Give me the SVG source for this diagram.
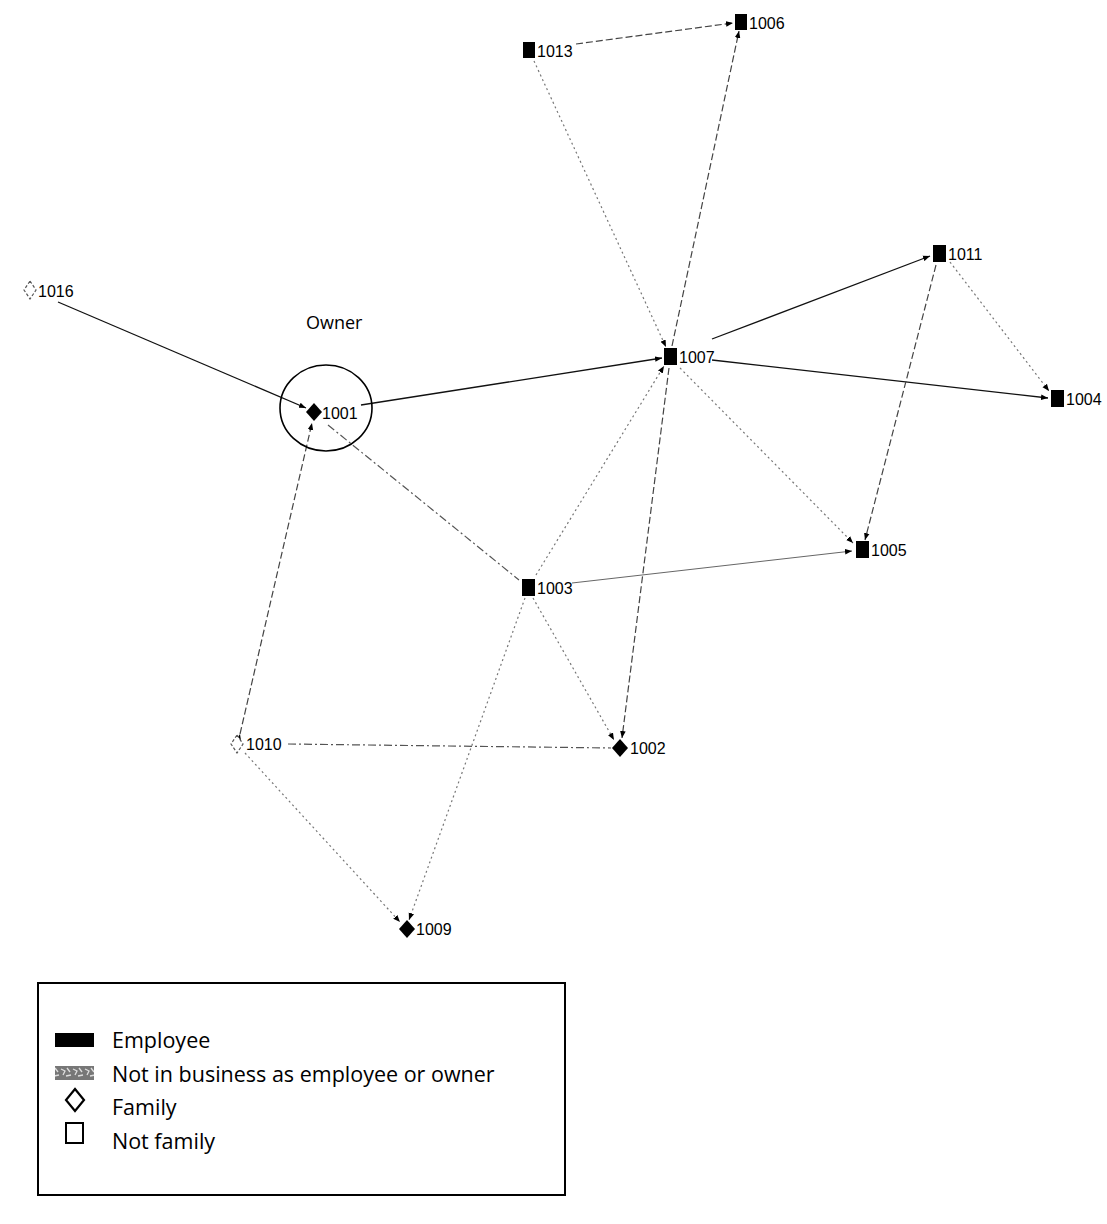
<svg xmlns="http://www.w3.org/2000/svg" width="1107" height="1224" viewBox="0 0 1107 1224">
<style>
.lbl{font-family:"Liberation Sans",Arial,sans-serif;font-size:16px;fill:#000}
.leg{font-family:"Open Sans","Liberation Sans",sans-serif;font-size:21.5px;fill:#000}
.e{fill:none;stroke:#333;stroke-width:1.2}
.solid{stroke:#111;stroke-width:1.3}
.dash{stroke-dasharray:7 3;stroke:#444}
.dot{stroke-dasharray:2 3;stroke:#777}
.dd{stroke-dasharray:8 3 2 3;stroke:#555}
.thin{stroke:#666;stroke-width:1}
.sq{fill:#000}
.fd{fill:#000}
.wd{fill:#fff;stroke:#555;stroke-width:1.2;stroke-dasharray:3 2}
</style>
<defs>
<marker id="arr" viewBox="0 0 10 10" refX="10" refY="5" markerWidth="7" markerHeight="7" markerUnits="userSpaceOnUse" orient="auto">
<path d="M0,1 L10,5 L0,9 Z" fill="#000"/>
</marker>
<pattern id="noise" width="12" height="13" patternUnits="userSpaceOnUse">
<rect width="12" height="13" fill="#777"/>
<path d="M1,3 L5,5 L3,9 M7,2 L10,6 M6,10 L11,9" stroke="#ddd" stroke-width="1.3" fill="none"/>
</pattern>
</defs>
<rect width="1107" height="1224" fill="#fff"/>
<g id="connectors">
<line class="e dash" x1="576" y1="44" x2="733" y2="23" marker-end="url(#arr)"/>
<line class="e dash" x1="672" y1="346" x2="739" y2="31" marker-end="url(#arr)"/>
<line class="e dot" x1="534" y1="61" x2="666" y2="347" marker-end="url(#arr)"/>
<line class="e solid" x1="58" y1="302" x2="306" y2="408" marker-end="url(#arr)"/>
<line class="e solid" x1="361" y1="405" x2="662" y2="358" marker-end="url(#arr)"/>
<line class="e solid" x1="712" y1="339" x2="930" y2="256" marker-end="url(#arr)"/>
<line class="e solid" x1="712" y1="360" x2="1048" y2="398" marker-end="url(#arr)"/>
<line class="e dot" x1="950" y1="262" x2="1049" y2="391" marker-end="url(#arr)"/>
<line class="e dash" x1="936" y1="265" x2="865" y2="540" marker-end="url(#arr)"/>
<line class="e dot" x1="680" y1="368" x2="853" y2="543" marker-end="url(#arr)"/>
<line class="e thin" x1="572" y1="583" x2="852" y2="551" marker-end="url(#arr)"/>
<line class="e dd" x1="328" y1="425" x2="519" y2="580"/>
<line class="e dot" x1="536" y1="575" x2="664" y2="366" marker-end="url(#arr)"/>
<line class="e dash" x1="669" y1="368" x2="622" y2="738" marker-end="url(#arr)"/>
<line class="e dot" x1="533" y1="598" x2="614" y2="740" marker-end="url(#arr)"/>
<line class="e dot" x1="525" y1="598" x2="409" y2="920" marker-end="url(#arr)"/>
<line class="e dash" x1="240" y1="734" x2="312" y2="423" marker-start="url(#arr)" marker-end="url(#arr)"/>
<line class="e dd" x1="288" y1="744" x2="611" y2="748"/>
<line class="e dot" x1="245" y1="753" x2="400" y2="922" marker-end="url(#arr)"/>
</g>
<g id="owner">
<ellipse cx="326" cy="408" rx="46" ry="43" fill="none" stroke="#000" stroke-width="1.6"/>
<text x="306" y="329" class="leg" style="font-size:18px">Owner</text>
</g>
<g id="n1013"><rect class="sq" x="523" y="42" width="12" height="16"/><text class="lbl" x="537" y="57">1013</text></g>
<g id="n1006"><rect class="sq" x="735" y="14" width="12" height="16"/><text class="lbl" x="749" y="29">1006</text></g>
<g id="n1016"><path class="wd" d="M30,281 L36,290 L30,299 L24,290 Z"/><text class="lbl" x="38" y="297">1016</text></g>
<g id="n1001"><path class="fd" d="M314,403 L322,412 L314,421 L306,412 Z"/><text class="lbl" x="322" y="419">1001</text></g>
<g id="n1007"><rect class="sq" x="664" y="348" width="13" height="17"/><text class="lbl" x="679" y="363">1007</text></g>
<g id="n1011"><rect class="sq" x="933" y="245" width="13" height="17"/><text class="lbl" x="948" y="260">1011</text></g>
<g id="n1004"><rect class="sq" x="1051" y="390" width="13" height="17"/><text class="lbl" x="1066" y="405">1004</text></g>
<g id="n1005"><rect class="sq" x="856" y="541" width="13" height="17"/><text class="lbl" x="871" y="556">1005</text></g>
<g id="n1003"><rect class="sq" x="522" y="579" width="13" height="17"/><text class="lbl" x="537" y="594">1003</text></g>
<g id="n1010"><path class="wd" d="M237,735 L243,744 L237,753 L231,744 Z"/><text class="lbl" x="246" y="750">1010</text></g>
<g id="n1002"><path class="fd" d="M620,739 L628,748 L620,757 L612,748 Z"/><text class="lbl" x="630" y="754">1002</text></g>
<g id="n1009"><path class="fd" d="M407,920 L415,929 L407,938 L399,929 Z"/><text class="lbl" x="416" y="935">1009</text></g>
<g id="legend">
<rect x="38" y="983" width="527" height="212" fill="none" stroke="#000" stroke-width="2"/>
<rect x="55" y="1033" width="39" height="14" fill="#000"/>
<text class="leg" x="112" y="1048">Employee</text>
<rect x="55" y="1066" width="39" height="14" fill="url(#noise)"/>
<text class="leg" x="112" y="1082">Not in business as employee or owner</text>
<path d="M75,1089 L84,1100 L75,1111 L66,1100 Z" fill="none" stroke="#000" stroke-width="2.2"/>
<text class="leg" x="112" y="1115">Family</text>
<rect x="66" y="1123" width="17" height="20" fill="none" stroke="#000" stroke-width="2"/>
<text class="leg" x="112" y="1149">Not family</text>
</g>
</svg>
